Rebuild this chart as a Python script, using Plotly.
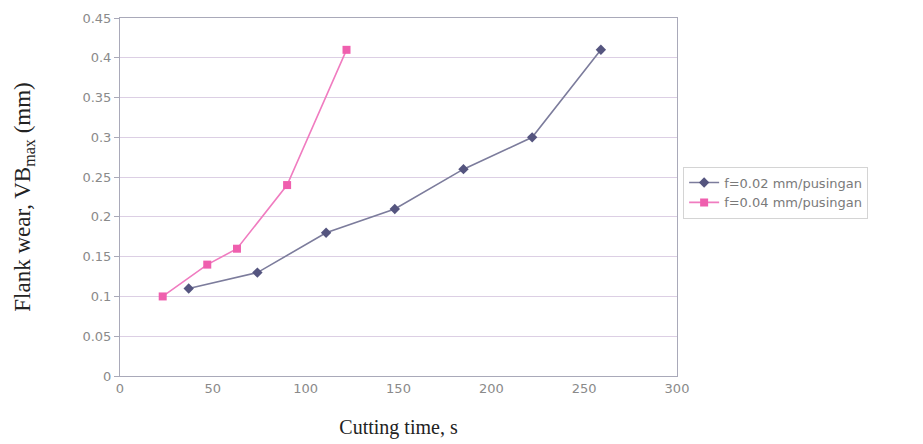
import plotly.graph_objects as go

# Data
time_f002 = [37, 74, 111, 148, 185, 222, 259]
wear_f002 = [0.11, 0.13, 0.18, 0.21, 0.26, 0.30, 0.41]
time_f004 = [23, 47, 63, 90, 122]
wear_f004 = [0.10, 0.14, 0.16, 0.24, 0.41]
name_f002 = "f=0.02 mm/pusingan"
name_f004 = "f=0.04 mm/pusingan"
x_ticks = [0, 50, 100, 150, 200, 250, 300]
y_ticks = [0, 0.05, 0.1, 0.15, 0.2, 0.25, 0.3, 0.35, 0.4, 0.45]
y_ticklabels = ["0", "0.05", "0.1", "0.15", "0.2", "0.25", "0.3", "0.35", "0.4", "0.45"]

fig = go.Figure()
fig.add_trace(go.Scatter(
    x=time_f002, y=wear_f002, mode="lines+markers", name=name_f002,
    line=dict(color="#7c7c9c", width=1.6),
    marker=dict(symbol="diamond", size=8, color="#55557f"),
))
fig.add_trace(go.Scatter(
    x=time_f004, y=wear_f004, mode="lines+markers", name=name_f004,
    line=dict(color="#f07cc0", width=1.6),
    marker=dict(symbol="square", size=8, color="#ef5fae"),
))

fig.update_layout(
    width=923, height=444,
    margin=dict(l=112, r=254, t=10, b=76),
    paper_bgcolor="white", plot_bgcolor="white",
    font=dict(family="DejaVu Sans, Arial", size=12, color="#8a8a8a"),
    legend=dict(
        x=1.011, y=0.585, xanchor="left", yanchor="top",
        bordercolor="#d4d4d4", borderwidth=1,
        font=dict(family="DejaVu Sans, Arial", size=13, color="#7a7a7a"),
        tracegroupgap=0,
    ),
    xaxis=dict(
        range=[0, 300], tickvals=x_ticks, showgrid=False,
        showline=True, linecolor="#a9a9b9", linewidth=1, mirror=True,
        ticks="", zeroline=False, automargin=False,
        tickfont=dict(family="DejaVu Sans, Arial", size=13, color="#8a8a8a"),
        title=dict(text="Cutting time, s", font=dict(family="Liberation Serif, Times New Roman", size=20, color="#222"), standoff=25),
    ),
    yaxis=dict(
        range=[0, 0.45], tickvals=y_ticks, ticktext=y_ticklabels,
        showgrid=True, gridcolor="#dccfe4", gridwidth=1,
        showline=True, linecolor="#a9a9b9", linewidth=1, mirror=True,
        ticks="outside", ticklen=5, tickcolor="#a9a9b9", zeroline=False, automargin=False,
        tickfont=dict(family="DejaVu Sans, Arial", size=13, color="#8a8a8a"),
        title=dict(text="Flank wear, VB<sub>max</sub> (mm)", font=dict(family="Liberation Serif, Times New Roman", size=23, color="#222"), standoff=45),
    ),
)

fig.write_html("out.html")
